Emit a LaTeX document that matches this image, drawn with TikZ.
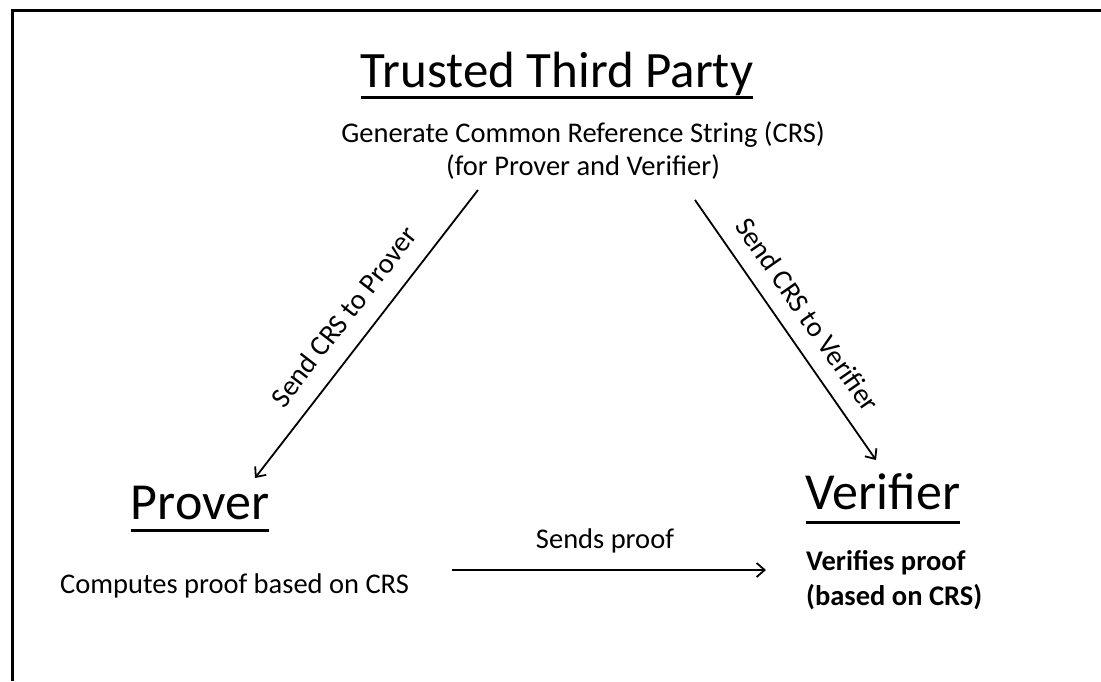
\documentclass[tikz,border=0pt]{standalone}
\usepackage{fontspec}
\setmainfont{Carlito}
\usetikzlibrary{arrows.meta}
\begin{document}
\begin{tikzpicture}[x=1pt,y=-1pt,
  big/.style={font=\fontsize{52}{60}\selectfont, inner sep=0pt, anchor=base},
  txt/.style={font=\fontsize{28.5}{33}\selectfont, inner sep=0pt},
  uline/.style={line width=3pt},
  conn/.style={line width=1.8pt, -{Straight Barb[length=8pt,width=14pt]}},
  lbl/.style={font=\fontsize{28.5}{33}\selectfont, inner sep=0pt, sloped}]
\useasboundingbox (0,0) rectangle (1101,681);
\draw[line width=3pt] (12,681) -- (12,10) -- (1101,10);

\node[big, font=\fontsize{51}{60}\selectfont] (ttp) at (557,87) {Trusted Third Party};
\node[txt, align=center, anchor=base] (gen) at (583,175) {Generate Common Reference String (CRS)\\(for Prover and Verifier)};
\node[big] (prover) at (200,519) {Prover};
\node[txt, anchor=base west] (comp) at (60,593) {Computes proof based on CRS};
\node[big] (verifier) at (883,509) {Verifier};
\node[txt, align=left, anchor=base west, font=\fontsize{28.5}{35}\selectfont\bfseries] (ver) at (806,605) {Verifies proof\\(based on CRS)};

\draw[uline] ([yshift=-10pt]ttp.base west) -- ([yshift=-10pt]ttp.base east);
\draw[uline] ([yshift=-11pt]prover.base west) -- ([yshift=-11pt]prover.base east);
\draw[uline] ([yshift=-13pt]verifier.base west) -- ([yshift=-13pt]verifier.base east);

\coordinate (a1) at (478,190);
\coordinate (a2) at (255,478);
\coordinate (b1) at (695,200);
\coordinate (b2) at (876,460);
\coordinate (c1) at (452,570);
\coordinate (c2) at (766,570);

\draw[conn] (a1) -- (a2) node[lbl, midway, above=18pt] (la) {Send CRS to Prover};
\draw[conn] (b1) -- (b2) node[lbl, midway, above=16pt] (lb) {Send CRS to Verifier};
\draw[conn] (c1) -- (c2) node[txt, midway, above=16pt, xshift=-4pt] (lc) {Sends proof};
\end{tikzpicture}
\end{document}
